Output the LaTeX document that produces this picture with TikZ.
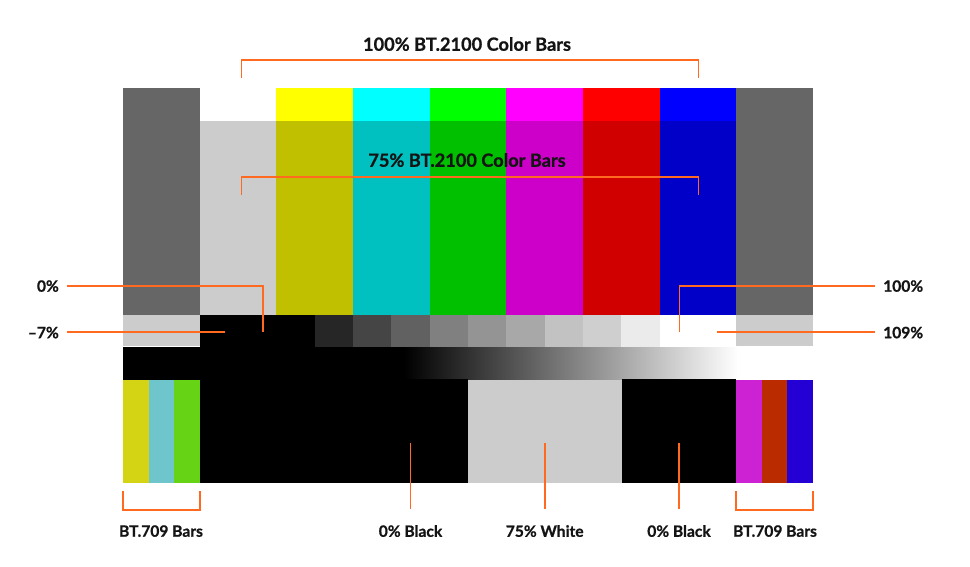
\documentclass[tikz,border=0pt]{standalone}
\usepackage{fontspec}
\setmainfont{Lato}[BoldFeatures={FakeBold=0.8}]
\definecolor{org}{RGB}{255,106,32}
\definecolor{txt}{RGB}{20,20,20}
\definecolor{sidegray}{RGB}{102,102,102}
\definecolor{lgray}{RGB}{204,204,204}
\definecolor{yel}{RGB}{255,255,0}
\definecolor{cya}{RGB}{0,255,255}
\definecolor{gre}{RGB}{0,255,0}
\definecolor{mag}{RGB}{255,0,255}
\definecolor{re}{RGB}{255,0,0}
\definecolor{blu}{RGB}{0,0,255}
\definecolor{yelb}{RGB}{192,192,0}
\definecolor{cyab}{RGB}{0,192,192}
\definecolor{greb}{RGB}{0,192,0}
\definecolor{magb}{RGB}{204,0,200}
\definecolor{reb}{RGB}{208,0,0}
\definecolor{blub}{RGB}{0,0,200}
\definecolor{byel}{RGB}{212,212,20}
\definecolor{bcya}{RGB}{110,198,204}
\definecolor{bgre}{RGB}{102,212,20}
\definecolor{bmag}{RGB}{204,34,212}
\definecolor{bred}{RGB}{186,44,0}
\definecolor{bblu}{RGB}{36,0,212}
\begin{document}
\begin{tikzpicture}[x=1pt,y=-1pt,
  biglab/.style={font=\bfseries\fontsize{18.2}{21}\selectfont, text=txt, inner sep=0pt, text depth=0pt},
  lab/.style={font=\bfseries\fontsize{15.6}{18}\selectfont, text=txt, inner sep=0pt, text depth=0pt},
  ann/.style={draw=org, line width=1.8pt}]
\useasboundingbox[fill=white] (0,0) rectangle (970,567);
% ---- top section ----
\fill[sidegray] (123,88) rectangle (199.7,315);
\fill[sidegray] (736.3,88) rectangle (813,315);
\fill[white] (199.7,88) rectangle (276.3,121);
\fill[yel] (276.3,88) rectangle (353,121);
\fill[cya] (353,88) rectangle (429.7,121);
\fill[gre] (429.7,88) rectangle (506.3,121);
\fill[mag] (506.3,88) rectangle (583,121);
\fill[re] (583,88) rectangle (659.7,121);
\fill[blu] (659.7,88) rectangle (736.3,121);
\fill[lgray] (199.7,121) rectangle (276.3,315);
\fill[yelb] (276.3,121) rectangle (353,315);
\fill[cyab] (353,121) rectangle (429.7,315);
\fill[greb] (429.7,121) rectangle (506.3,315);
\fill[magb] (506.3,121) rectangle (583,315);
\fill[reb] (583,121) rectangle (659.7,315);
\fill[blub] (659.7,121) rectangle (736.3,315);
% ---- step row ----
\fill[lgray] (123,315) rectangle (199.7,346);
\fill[lgray] (736.3,315) rectangle (813,346);
\fill[black] (199.7,315) rectangle (314.7,347);
\foreach \i/\g in {0/15,1/27,2/38,3/50,4/58,5/66,6/76,7/81,8/92}{
  \fill[fill=white!\g!black] ({314.7+\i*38.333},315) rectangle ({314.7+(\i+1)*38.333},347);
}
\fill[white] (659.7,315) rectangle (736.3,347);
% ---- ramp row ----
\fill[black] (123,347) rectangle (405,379.5);
\shade[left color=black, right color=white] (404,347) rectangle (738,379.5);
\fill[white] (737,347) rectangle (813,379.5);
% ---- bottom row ----
\fill[byel] (123,380) rectangle (148.6,483);
\fill[bcya] (148.6,380) rectangle (174.1,483);
\fill[bgre] (174.1,380) rectangle (199.7,483);
\fill[black] (199.7,379) rectangle (468,483);
\fill[lgray] (468,380) rectangle (621.7,483);
\fill[black] (621.7,379) rectangle (736.3,483);
\fill[bmag] (736.3,380) rectangle (761.9,483);
\fill[bred] (761.9,380) rectangle (787.4,483);
\fill[bblu] (787.4,380) rectangle (813,483);
% ---- annotations ----
\node[biglab] (t100) at (467,44) {100\% BT.2100 Color Bars};
\coordinate (b100l) at (241.5,78);
\coordinate (b100r) at (698.5,78);
\draw[ann] (b100l) -- (241.5,60) -- (698.5,60) -- (b100r);
\node[biglab] (t75) at (467,160) {75\% BT.2100 Color Bars};
\coordinate (b75l) at (241.5,195);
\coordinate (b75r) at (698.5,195);
\draw[ann] (b75l) -- (241.5,177) -- (698.5,177) -- (b75r);
% left labels
\node[lab, anchor=east] (l0) at (59,286) {0\%};
\node[lab, anchor=east] (lm7) at (59,332.5) {–7\%};
\coordinate (p0) at (263.3,332.3);
\coordinate (pm7) at (225,332);
\draw[ann] (67,286) -- (263.3,286) -- (p0);
\draw[ann] (67,332) -- (pm7);
% right labels
\node[lab, anchor=west] (r100) at (883,286) {100\%};
\node[lab, anchor=west] (r109) at (883,332.5) {109\%};
\coordinate (p100) at (679.5,332);
\coordinate (p109) at (717,332);
\draw[ann] (875,286) -- (679.5,286) -- (p100);
\draw[ann] (875,332) -- (p109);
% bottom labels
\node[lab] (bl1) at (161,531) {BT.709 Bars};
\draw[ann] (123,491) -- (123,510) -- (199.7,510) -- (199.7,491);
\node[lab] (bl2) at (775,531) {BT.709 Bars};
\draw[ann] (736.3,491) -- (736.3,510) -- (813,510) -- (813,491);
\node[lab] (k1) at (410.5,531) {0\% Black};
\node[lab] (w75) at (544.7,531) {75\% White};
\node[lab] (k2) at (679,531) {0\% Black};
\coordinate (pk1) at (410.5,443);
\coordinate (pw) at (544.7,443);
\coordinate (pk2) at (679,443);
\draw[ann] (pk1) -- (410.5,509);
\draw[ann] (pw) -- (544.7,509);
\draw[ann] (pk2) -- (679,509);
\end{tikzpicture}
\end{document}
